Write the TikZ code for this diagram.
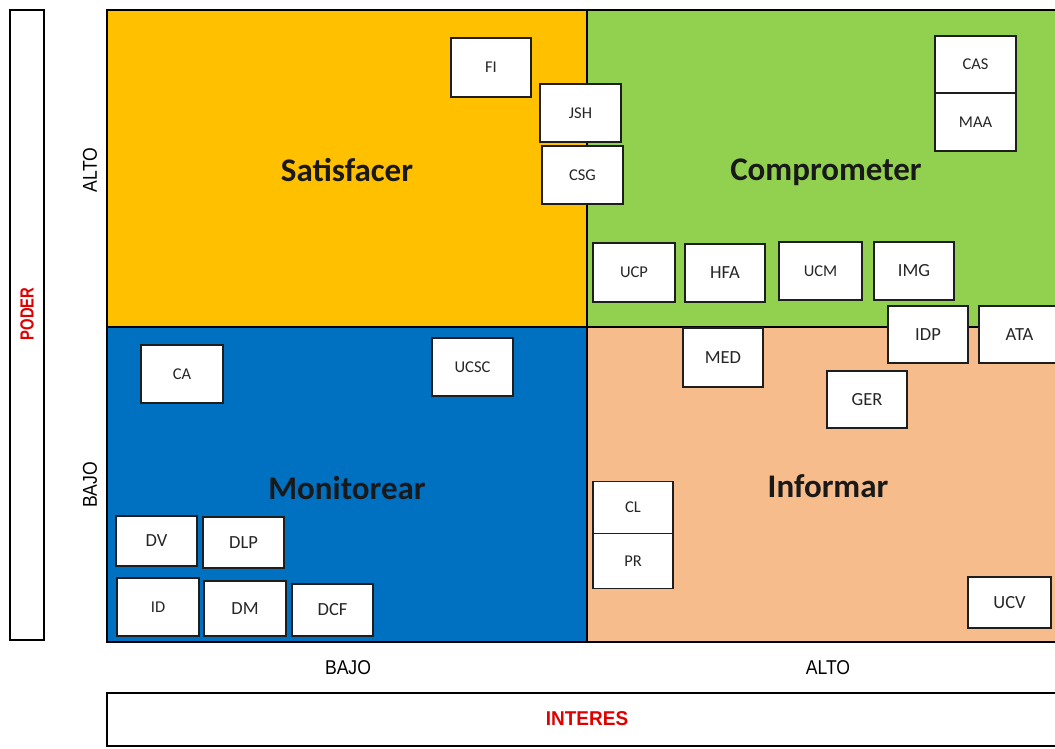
\documentclass[tikz,border=0pt]{standalone}
\usepackage{fontspec}
\setmainfont{Carlito}
\newfontfamily\axisfont[FakeStretch=0.88]{Liberation Sans}
\newfontfamily\axisboldfont[FakeStretch=0.95]{Liberation Sans}
\newfontfamily\poderfont[FakeStretch=0.78]{Liberation Sans}
\definecolor{qorange}{HTML}{FFC000}
\definecolor{qgreen}{HTML}{92D050}
\definecolor{qblue}{HTML}{0070C0}
\definecolor{qpeach}{HTML}{F6BC8C}
\definecolor{axisred}{HTML}{E00000}
\definecolor{edge}{HTML}{1E1E1E}
\tikzset{
  stake/.style={draw=edge, fill=white, line width=1.6pt, inner sep=0pt,
    text=black!85, font=\fontsize{16.5}{18}\selectfont},
  stakebig/.style={stake, font=\fontsize{18.5}{20}\selectfont},
  qtitle/.style={font=\bfseries\fontsize{33}{36}\selectfont, text=black!90},
  axislabel/.style={font=\axisfont\fontsize{20}{22}\selectfont},
  frame/.style={draw=black, line width=2.6pt},
}
\begin{document}
\begin{tikzpicture}[x=1pt,y=-1pt]
\useasboundingbox (0,0) rectangle (1055,748);
\clip (0,0) rectangle (1055,748);
\fill[white] (0,0) rectangle (1055,748);

% quadrants
\fill[qorange] (107,10) rectangle (587,327);
\fill[qgreen]  (587,10) rectangle (1070,327);
\fill[qblue]   (107,327) rectangle (587,642);
\fill[qpeach]  (587,327) rectangle (1070,642);
\draw[black, line width=2pt] (587,10) -- (587,642);
\draw[black, line width=2pt] (107,327) -- (1070,327);
\draw[frame] (107,10) rectangle (1070,642);

% quadrant titles
\node[qtitle] (satisfacer)  at (347,170) {Satisfacer};
\node[qtitle] (comprometer) at (826,172) {Comprometer};
\node[qtitle] (monitorear)  at (347,488) {Monitorear};
\node[qtitle] (informar)    at (828,486) {Informar};

% power axis
\draw[frame] (10,10) rectangle (44,640);
\node[rotate=90, font=\poderfont\bfseries\fontsize{19}{21}\selectfont, text=axisred] (poder) at (27,314) {PODER};
\node[rotate=90, axislabel] (palto) at (90,170) {ALTO};
\node[rotate=90, axislabel] (pbajo) at (90,485) {BAJO};

% interest axis
\draw[frame] (107,693) rectangle (1070,746);
\node[font=\axisboldfont\bfseries\fontsize{20}{22}\selectfont, text=axisred] (interes) at (587,719) {INTERES};
\node[axislabel] (ibajo) at (348,668) {BAJO};
\node[axislabel] (ialto) at (828,668) {ALTO};

% Satisfacer
\node[stake, minimum width=80pt, minimum height=59pt] (FI)  at (491,67.5) {FI};
\node[stake, minimum width=81pt, minimum height=58pt] (JSH) at (580.5,113) {JSH};
\node[stake, minimum width=81pt, minimum height=58pt] (CSG) at (582.5,175) {CSG};

% Comprometer
\node[stake, minimum width=81pt, minimum height=57pt] (CAS) at (975.5,64.5) {CAS};
\node[stake, minimum width=81pt, minimum height=58pt] (MAA) at (975.5,122) {MAA};
\node[stake, minimum width=82pt, minimum height=59pt] (UCP) at (634,272.5) {UCP};
\node[stakebig, minimum width=80pt, minimum height=58pt] (HFA) at (725,273) {HFA};
\node[stake, minimum width=83pt, minimum height=58pt] (UCM) at (820.5,271) {UCM};
\node[stakebig, minimum width=80pt, minimum height=58pt] (IMG) at (914,271) {IMG};
\node[stakebig, minimum width=80pt, minimum height=57pt] (IDP) at (928,334.5) {IDP};
\node[stakebig, minimum width=81pt, minimum height=57pt] (ATA) at (1019.5,334.5) {ATA};

% Informar
\node[stakebig, minimum width=80pt, minimum height=59pt] (MED) at (723,357.5) {MED};
\node[stakebig, minimum width=80pt, minimum height=57pt] (GER) at (867,399.5) {GER};
\node[stake, minimum width=80pt, minimum height=52pt] (CL) at (633,507.5) {CL};
\node[stake, minimum width=80pt, minimum height=55pt] (PR) at (633,561) {PR};
\node[stakebig, minimum width=83pt, minimum height=51pt] (UCV) at (1009.5,602.5) {UCV};

% Monitorear
\node[stake, minimum width=82pt, minimum height=58pt] (CA)   at (182,374) {CA};
\node[stake, minimum width=81pt, minimum height=58pt] (UCSC) at (472.5,367) {UCSC};
\node[stakebig, minimum width=81pt, minimum height=50pt] (DV)  at (156.5,541) {DV};
\node[stakebig, minimum width=81pt, minimum height=51pt] (DLP) at (243.5,542.5) {DLP};
\node[stake, minimum width=82pt, minimum height=58pt] (ID)  at (158,607) {ID};
\node[stakebig, minimum width=82pt, minimum height=55pt] (DM)  at (245,608.5) {DM};
\node[stakebig, minimum width=81pt, minimum height=52pt] (DCF) at (332.5,610) {DCF};
\end{tikzpicture}
\end{document}
